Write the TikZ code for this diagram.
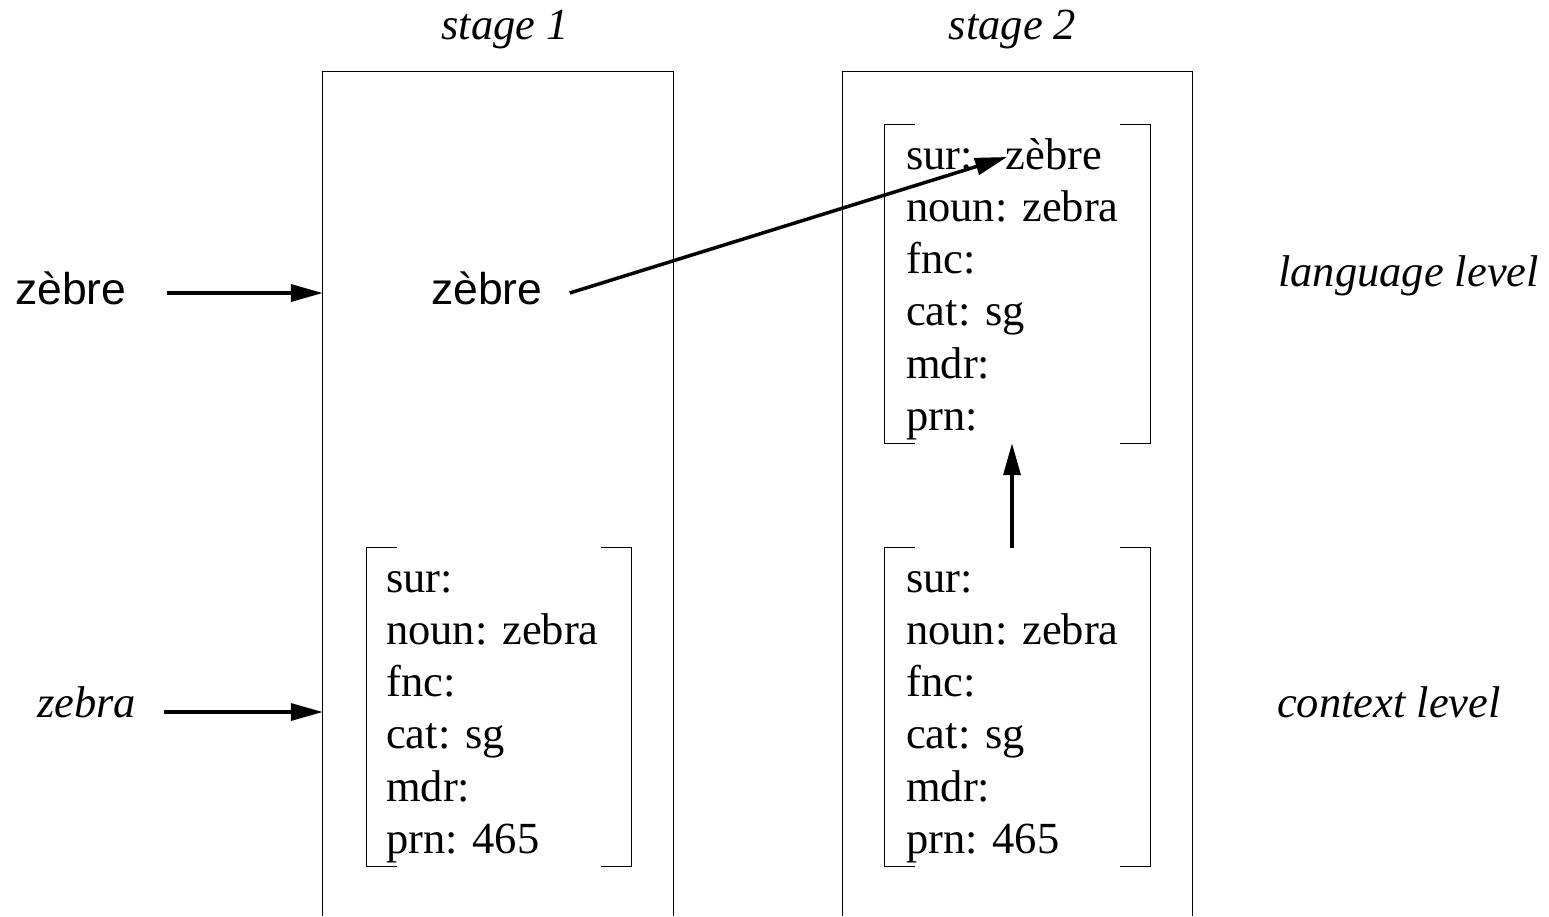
\documentclass[tikz,border=0pt]{standalone}
\usepackage{fontspec}
\setmainfont{Liberation Serif}
\setsansfont{Liberation Sans}
\usetikzlibrary{arrows.meta,positioning,calc}
\tikzset{
  stgbox/.style={draw=none, minimum width=350pt, minimum height=844pt, inner sep=0pt},
  brk/.style={draw=none, minimum width=265pt, minimum height=318pt, inner sep=0pt},
  stgline/.style={draw=black, line width=1.3pt},
  brkline/.style={draw=black, line width=1.3pt},
  feat/.style={anchor=base west, inner sep=0pt, font=\fontsize{44.5}{52.3}\selectfont},
  zword/.style={anchor=base west, inner sep=0pt, font=\fontsize{44.5}{52.3}\selectfont\sffamily},
  lbl/.style={anchor=base west, inner sep=0pt, font=\fontsize{44.5}{52.3}\selectfont\itshape},
  arr/.style={-{Triangle[length=32pt,width=17pt]}, draw=black, line width=3.5pt}
}
\begin{document}
\begin{tikzpicture}[x=1pt, y=-1pt]
  \useasboundingbox (0,0) rectangle (1549,916);
  % stage frames, open at the bottom
  \node[stgbox] (stg1) at (498,494) {};
  \node[stgbox, minimum width=349pt] (stg2) at (1017.5,494) {};
  \draw[stgline] (stg1.south west) -- (stg1.north west) -- (stg1.north east) -- (stg1.south east);
  \draw[stgline] (stg2.south west) -- (stg2.north west) -- (stg2.north east) -- (stg2.south east);
  \node[lbl, anchor=base] (t1) at (505,39) {stage 1};
  \node[lbl, anchor=base] (t2) at (1012.5,39) {stage 2};
  % feature structures
  \node[brk, minimum width=264pt] (ctx1) at (499,707) {};
  \node[brk] (lang2) at (1017.5,284) {};
  \node[brk] (ctx2) at (1017.5,707) {};
  \foreach \b in {ctx1,lang2,ctx2}{
    \draw[brkline] ($(\b.north west)+(30,0)$) -- (\b.north west) -- (\b.south west) -- ++(30,0);
    \draw[brkline] ($(\b.north east)+(-30,0)$) -- (\b.north east) -- (\b.south east) -- ++(-30,0);
  }
  \node[feat] (f1) at (386,592) {\begin{tabular}[t]{@{}l@{}}sur:\\noun: zebra\\fnc:\\cat: sg\\mdr:\\prn: 465\end{tabular}};
  \node[feat] (f2) at (906,169) {\begin{tabular}[t]{@{}l@{}}sur:\hspace{33pt}zèbre\\noun: zebra\\fnc:\\cat: sg\\mdr:\\prn:\end{tabular}};
  \node[feat] (f3) at (906,592) {\begin{tabular}[t]{@{}l@{}}sur:\\noun: zebra\\fnc:\\cat: sg\\mdr:\\prn: 465\end{tabular}};
  \coordinate (surval) at (1007,157);
  % inputs and levels
  \node[zword] (in1) at (15,304) {zèbre};
  \node[lbl] (in2) at (37,717) {zebra};
  \node[zword] (w1) at (431,304) {zèbre};
  \node[lbl] (lvl1) at (1278,286) {language level};
  \node[lbl] (lvl2) at (1277,717) {context level};
  \draw[arr] ($(in1.base east)+(40,-11)$) -- ($(in1.base east -| stg1.west)+(0,-11)$);
  \draw[arr] ($(in2.base east)+(28,-5)$) -- ($(in2.base east -| stg1.west)+(0,-5)$);
  \draw[arr] ($(w1.base east)+(27,-11)$) -- (surval);
  \draw[arr] ([xshift=-5.5pt]ctx2.north) -- ([xshift=-5.5pt]lang2.south);
\end{tikzpicture}
\end{document}
